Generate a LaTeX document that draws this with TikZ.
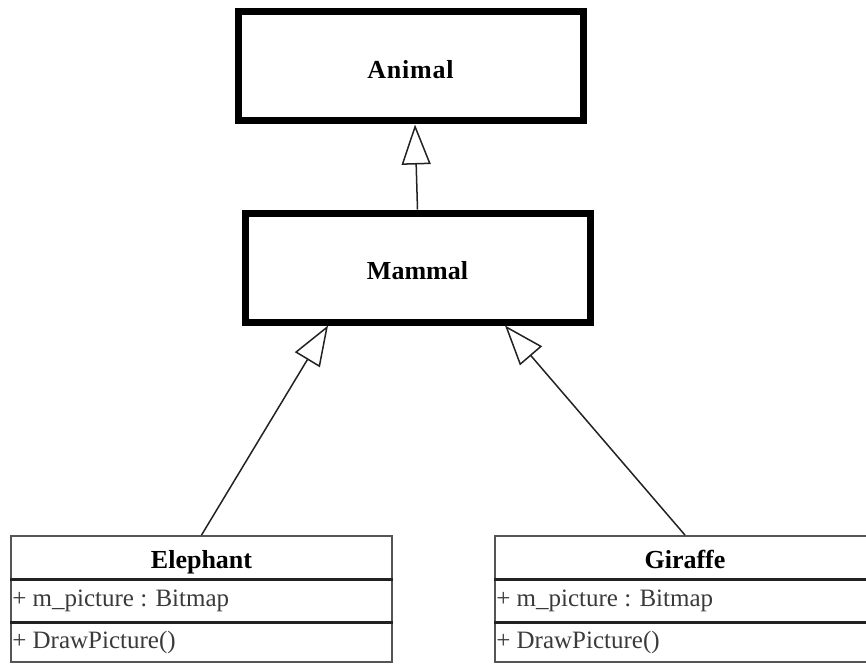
\documentclass[tikz,border=0pt]{standalone}
\usepackage{fontspec}
\setmainfont{Liberation Serif}
\usetikzlibrary{arrows.meta}
\definecolor{edgegray}{HTML}{555555}
\definecolor{sepgray}{HTML}{222222}
\definecolor{textgray}{HTML}{3A3A3A}
\definecolor{linkgray}{HTML}{222222}
\begin{document}
\begin{tikzpicture}[x=1pt,y=-1pt,
  bigclass/.style={draw=black,line width=7pt,minimum width=345pt,minimum height=109pt,
    inner sep=0pt,text height=24pt,text depth=0pt,font=\fontsize{26}{30}\selectfont\bfseries},
  classtitle/.style={draw=edgegray,line width=1.8pt,minimum height=43pt,inner sep=0pt,
    text height=21pt,text depth=0pt,font=\fontsize{26}{30}\selectfont\bfseries},
  classrow/.style={draw=edgegray,line width=1.8pt,inner sep=0pt},
  rowtext/.style={anchor=west,text=textgray,font=\fontsize{25}{29}\selectfont,inner sep=0pt},
  sepline/.style={draw=sepgray,line width=3pt},
  inherit/.style={draw=linkgray,line width=1.5pt,
    -{Triangle[open,length=40pt,width=29pt,fill=white]}}]
  \useasboundingbox (0,0) rectangle (866,663);
  \clip (0,0) rectangle (866,663);

  % abstract base classes
  \node[bigclass] (animal) at (410.5,66.5) {\addfontfeatures{LetterSpace=3}Animal};
  \node[bigclass] (mammal) at (417.5,267.5) {Mammal};

  % Elephant class: name, attribute, operation
  \node[classtitle,minimum width=381pt] (elephant) at (201.5,557.5) {Elephant};
  \node[classrow,minimum width=381pt,minimum height=43pt] (eattr) at (201.5,600.5) {};
  \node[classrow,minimum width=381pt,minimum height=40pt] (eop) at (201.5,642) {};
  \node[rowtext] (eattrtxt) at ([xshift=2pt]eattr.west) {+ m\_picture : Bitmap};
  \node[rowtext] (eoptxt) at ([xshift=2pt]eop.west) {+ DrawPicture()};
  \draw[sepline] (elephant.south west) -- (elephant.south east);
  \draw[sepline] (eattr.south west) -- (eattr.south east);

  % Giraffe class: name, attribute, operation
  \node[classtitle,minimum width=380pt] (giraffe) at (685,557.5) {Giraffe};
  \node[classrow,minimum width=380pt,minimum height=43pt] (gattr) at (685,600.5) {};
  \node[classrow,minimum width=380pt,minimum height=40pt] (gop) at (685,642) {};
  \node[rowtext] (gattrtxt) at ([xshift=2pt]gattr.west) {+ m\_picture : Bitmap};
  \node[rowtext] (goptxt) at ([xshift=2pt]gop.west) {+ DrawPicture()};
  \draw[sepline] (giraffe.south west) -- (giraffe.south east);
  \draw[sepline] (gattr.south west) -- (gattr.south east);

  % generalisation links
  \draw[inherit] (mammal.north) -- ([xshift=4.5pt]animal.south);
  \draw[inherit] (elephant.north) -- ([xshift=-89.5pt]mammal.south);
  \draw[inherit] (giraffe.north) -- ([xshift=87.5pt]mammal.south);
\end{tikzpicture}
\end{document}
